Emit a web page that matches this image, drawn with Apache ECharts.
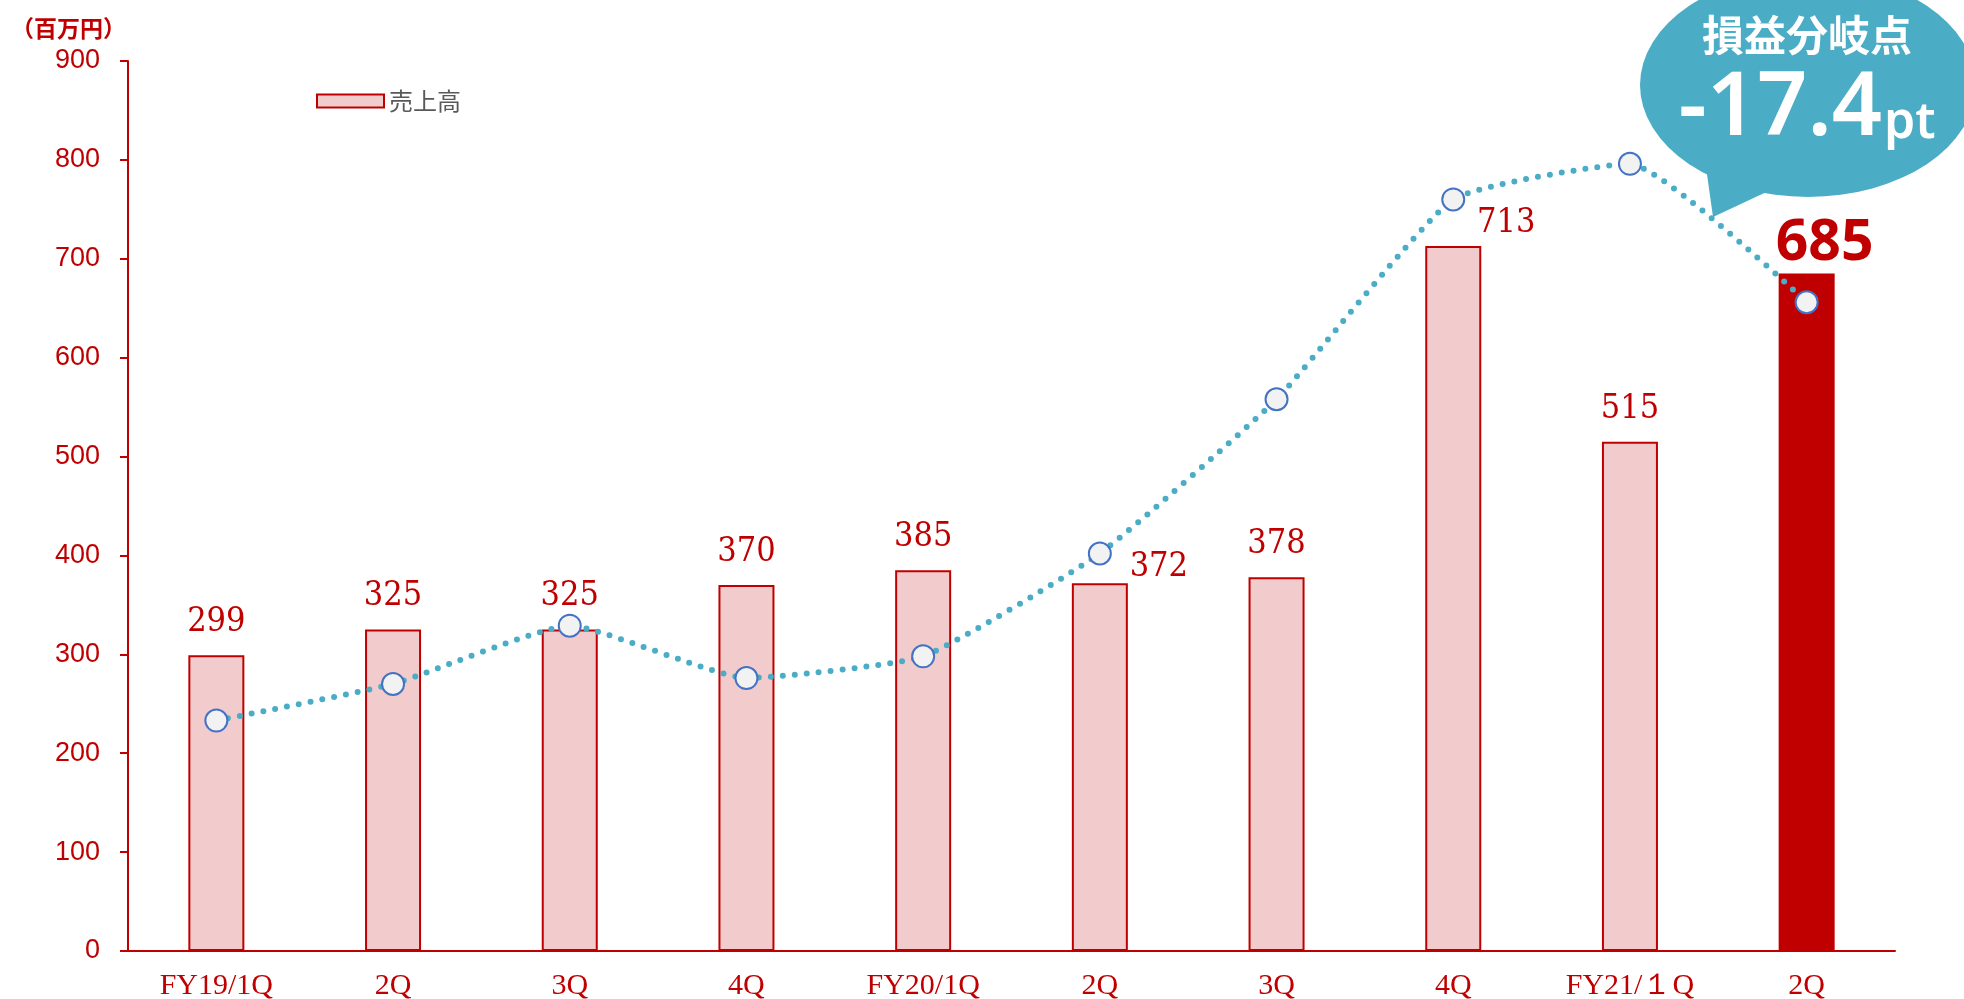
<!DOCTYPE html>
<html lang="ja">
<head>
<meta charset="utf-8">
<title>売上高</title>
<script src="https://cdn.jsdelivr.net/npm/echarts@6/dist/echarts.min.js"></script>
<style>
  html, body { margin: 0; padding: 0; background: #fff; }
  #chart { width: 1964px; height: 999px; }
</style>
</head>
<body>
<div id="chart"></div>
<script>
// 四半期ラベル
const categories = ['FY19/1Q', '2Q', '3Q', '4Q', 'FY20/1Q', '2Q', '3Q', '4Q', 'FY21/１Q', '2Q'];
// 売上高（百万円）
const sales = [299, 325, 325, 370, 385, 372, 378, 713, 515, 685];
// 損益分岐点の推移（軸なし、同じ目盛りで描画）
const breakEven = [233, 270, 329, 276, 298, 402, 558, 760, 796, 656];
const yTicks = { min: 0, max: 900, interval: 100 };
const unitLabel = '（百万円）';
const bubbleTitle = '損益分岐点';
const bubbleValue = '-17.4';
const bubbleUnit = 'pt';

const RED = '#c00000';
const PINK = '#f2cccc';
const TEAL = '#4bacc6';

const chart = echarts.init(document.getElementById('chart'));

// ラベル位置の個別調整
const labelOffsets = { 5: [59, 17], 7: [53, 10], 9: [18, 15] };
const last = sales.length - 1;

const barData = sales.map((v, i) => {
  const item = { value: v };
  const label = {};
  if (labelOffsets[i]) label.offset = labelOffsets[i];
  if (i === last) {
    item.itemStyle = { color: RED, borderColor: RED };
    label.fontFamily = 'Noto Sans';
    label.fontWeight = 'bold';
    label.fontSize = 57;
  }
  item.label = label;
  return item;
});

const option = {
  animation: false,
  title: {
    text: unitLabel,
    left: 6,
    top: 12,
    textStyle: { color: RED, fontSize: 23, fontWeight: 'bold', fontFamily: 'Noto Sans CJK JP' }
  },
  legend: {
    data: ['売上高'],
    left: 311,
    top: 84,
    icon: 'rect',
    itemWidth: 67,
    itemHeight: 13,
    textStyle: { color: '#595959', fontSize: 24, fontFamily: 'Noto Sans CJK JP' }
  },
  grid: { left: 128, right: 69, top: 61, bottom: 48, containLabel: false, outerBoundsMode: 'none' },
  xAxis: {
    type: 'category',
    data: categories,
    boundaryGap: true,
    axisLine: { lineStyle: { color: RED, width: 2 } },
    axisTick: { inside: true, length: 12, lineStyle: { color: RED, width: 2 } },
    axisLabel: { color: RED, fontSize: 30, margin: 20, fontFamily: 'Liberation Serif' }
  },
  yAxis: {
    type: 'value',
    min: yTicks.min,
    max: yTicks.max,
    interval: yTicks.interval,
    axisLine: { show: true, lineStyle: { color: RED, width: 2 } },
    axisTick: { show: true, length: 8, lineStyle: { color: RED, width: 2 } },
    splitLine: { show: false },
    axisLabel: { color: RED, fontSize: 27, margin: 28, fontFamily: 'Liberation Sans' }
  },
  series: [
    {
      name: '売上高',
      type: 'bar',
      data: barData,
      barWidth: 56,
      itemStyle: { color: PINK, borderColor: RED, borderWidth: 2 },
      label: {
        show: true,
        position: 'top',
        distance: 16,
        color: RED,
        fontSize: 34,
        fontFamily: 'DejaVu Serif Condensed, DejaVu Serif'
      },
      z: 2
    },
    {
      name: '損益分岐点',
      type: 'line',
      data: breakEven,
      smooth: 0.15,
      symbol: 'circle',
      symbolSize: 22,
      itemStyle: { color: '#f2f2f2', borderColor: '#4472c4', borderWidth: 2 },
      lineStyle: { color: TEAL, width: 6, type: [0, 12], cap: 'round' },
      z: 5
    }
  ],
  graphic: [
    {
      type: 'polygon',
      shape: { points: [[1705, 160], [1713, 217], [1775, 188]] },
      style: { fill: TEAL },
      z: 10
    },
    {
      type: 'circle',
      x: 1808,
      y: 85,
      scaleX: 1.5,
      shape: { cx: 0, cy: 0, r: 112 },
      style: { fill: TEAL },
      z: 10
    },
    {
      type: 'text',
      x: 1807,
      y: 35,
      style: {
        text: bubbleTitle,
        fill: '#fff',
        font: 'bold 42px "Noto Sans CJK JP"',
        textAlign: 'center',
        textVerticalAlign: 'middle'
      },
      z: 11
    },
    {
      type: 'text',
      x: 1882,
      y: 110,
      style: {
        text: bubbleValue,
        fill: '#fff',
        font: '600 88px "Noto Sans"',
        textAlign: 'right',
        textVerticalAlign: 'middle'
      },
      z: 11
    },
    {
      type: 'text',
      x: 1884,
      y: 124,
      style: {
        text: bubbleUnit,
        fill: '#fff',
        font: '600 50px "Noto Sans"',
        textAlign: 'left',
        textVerticalAlign: 'middle'
      },
      z: 11
    }
  ]
};

chart.setOption(option);

window.addEventListener('resize', () => {
  chart.resize();
});
</script>
</body>
</html>
